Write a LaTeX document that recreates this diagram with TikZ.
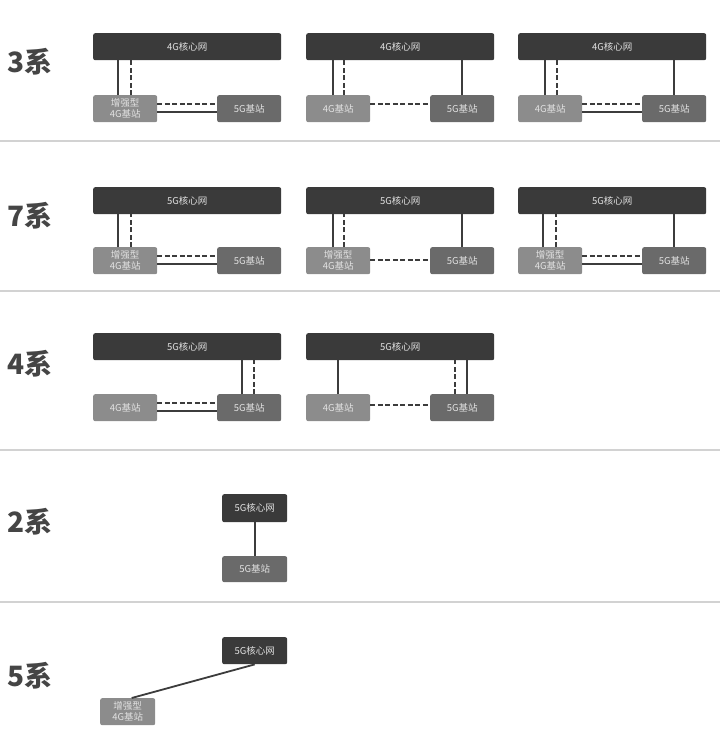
\documentclass[tikz,border=0pt]{standalone}
\usepackage{fontspec}
\setmainfont{Noto Sans CJK SC}
\usetikzlibrary{positioning}
\definecolor{corecol}{HTML}{3A3A3A}
\definecolor{fourcol}{HTML}{8C8C8C}
\definecolor{fivecol}{HTML}{6A6A6A}
\definecolor{linecol}{HTML}{3C3C3C}
\definecolor{boxtext}{HTML}{E2E2E2}
\definecolor{labelcol}{HTML}{454545}
\definecolor{sepcol}{HTML}{D2D2D2}
\tikzset{
  box/.style={rounded corners=2pt, inner sep=0pt, anchor=north west, text=boxtext,
    align=center, font=\fontsize{9.5}{11}\selectfont},
  core/.style={box, fill=corecol, minimum width=188pt, minimum height=27pt},
  smallcore/.style={box, fill=corecol, minimum width=65pt, minimum height=28pt},
  bsfour/.style={box, fill=fourcol, minimum width=64pt, minimum height=27pt},
  bsfive/.style={box, fill=fivecol, minimum width=64pt, minimum height=27pt},
  solidlink/.style={draw=linecol, line width=1.8pt},
  dashlink/.style={draw=linecol, line width=1.8pt, dash pattern=on 5pt off 2.5pt},
  rowlabel/.style={text=labelcol, font=\fontsize{28}{28}\bfseries\selectfont},
  sepline/.style={draw=sepcol, line width=1.3pt}
}
\begin{document}
\begin{tikzpicture}[x=1pt,y=-1pt]
    \useasboundingbox (0,0) rectangle (720,732);

    % separators between the rows
    \draw[sepline] (0,141) -- (720,141);
    \draw[sepline] (0,291) -- (720,291);
    \draw[sepline] (0,450) -- (720,450);
    \draw[sepline] (0,602) -- (720,602);

    % row labels
    \node[rowlabel] (r3) at (30,62) {3系};
    \node[rowlabel] (r7) at (30,216) {7系};
    \node[rowlabel] (r4) at (30,364) {4系};
    \node[rowlabel] (r2) at (30,522) {2系};
    \node[rowlabel] (r5) at (30,676) {5系};

    % Row 3: first panel
    \begin{scope}[shift={(93,33)}]
        \node[core] (c3a) at (0,0) {4G核心网};
        \node[bsfour] (f3a) at (0,62) {增强型\\4G基站};
        \node[bsfive] (g3a) at (124,62) {5G基站};
        % control and user plane to the core
        \draw[solidlink] ([xshift=-7pt]f3a.north) -- ([xshift=-7pt]f3a.north |- c3a.south);
        \draw[dashlink] ([xshift=6pt]f3a.north) -- ([xshift=6pt]f3a.north |- c3a.south);
        % link between the stations
        \draw[dashlink] ([yshift=5pt]f3a.east) -- ([yshift=5pt]f3a.east -| g3a.west);
        \draw[solidlink] ([yshift=-3pt]f3a.east) -- ([yshift=-3pt]f3a.east -| g3a.west);
    \end{scope}

    % Row 3: second panel
    \begin{scope}[shift={(306,33)}]
        \node[core] (c3b) at (0,0) {4G核心网};
        \node[bsfour] (f3b) at (0,62) {4G基站};
        \node[bsfive] (g3b) at (124,62) {5G基站};
        \draw[solidlink] ([xshift=-5pt]f3b.north) -- ([xshift=-5pt]f3b.north |- c3b.south);
        \draw[dashlink] ([xshift=6pt]f3b.north) -- ([xshift=6pt]f3b.north |- c3b.south);
        \draw[solidlink] (g3b.north) -- (g3b.north |- c3b.south);
        \draw[dashlink] ([yshift=5pt]f3b.east) -- ([yshift=5pt]f3b.east -| g3b.west);
    \end{scope}

    % Row 3: third panel
    \begin{scope}[shift={(518,33)}]
        \node[core] (c3c) at (0,0) {4G核心网};
        \node[bsfour] (f3c) at (0,62) {4G基站};
        \node[bsfive] (g3c) at (124,62) {5G基站};
        \draw[solidlink] ([xshift=-5pt]f3c.north) -- ([xshift=-5pt]f3c.north |- c3c.south);
        \draw[dashlink] ([xshift=7pt]f3c.north) -- ([xshift=7pt]f3c.north |- c3c.south);
        \draw[solidlink] (g3c.north) -- (g3c.north |- c3c.south);
        \draw[dashlink] ([yshift=5pt]f3c.east) -- ([yshift=5pt]f3c.east -| g3c.west);
        \draw[solidlink] ([yshift=-3pt]f3c.east) -- ([yshift=-3pt]f3c.east -| g3c.west);
    \end{scope}

    % Row 7: first panel
    \begin{scope}[shift={(93,187)}]
        \node[core] (c7a) at (0,0) {5G核心网};
        \node[bsfour] (f7a) at (0,60) {增强型\\4G基站};
        \node[bsfive] (g7a) at (124,60) {5G基站};
        \draw[solidlink] ([xshift=-7pt]f7a.north) -- ([xshift=-7pt]f7a.north |- c7a.south);
        \draw[dashlink] ([xshift=6pt]f7a.north) -- ([xshift=6pt]f7a.north |- c7a.south);
        \draw[dashlink] ([yshift=5pt]f7a.east) -- ([yshift=5pt]f7a.east -| g7a.west);
        \draw[solidlink] ([yshift=-3pt]f7a.east) -- ([yshift=-3pt]f7a.east -| g7a.west);
    \end{scope}

    % Row 7: second panel
    \begin{scope}[shift={(306,187)}]
        \node[core] (c7b) at (0,0) {5G核心网};
        \node[bsfour] (f7b) at (0,60) {增强型\\4G基站};
        \node[bsfive] (g7b) at (124,60) {5G基站};
        \draw[solidlink] ([xshift=-5pt]f7b.north) -- ([xshift=-5pt]f7b.north |- c7b.south);
        \draw[dashlink] ([xshift=6pt]f7b.north) -- ([xshift=6pt]f7b.north |- c7b.south);
        \draw[solidlink] (g7b.north) -- (g7b.north |- c7b.south);
        \draw[dashlink] ([yshift=1pt]f7b.east) -- ([yshift=1pt]f7b.east -| g7b.west);
    \end{scope}

    % Row 7: third panel
    \begin{scope}[shift={(518,187)}]
        \node[core] (c7c) at (0,0) {5G核心网};
        \node[bsfour] (f7c) at (0,60) {增强型\\4G基站};
        \node[bsfive] (g7c) at (124,60) {5G基站};
        \draw[solidlink] ([xshift=-7pt]f7c.north) -- ([xshift=-7pt]f7c.north |- c7c.south);
        \draw[dashlink] ([xshift=6pt]f7c.north) -- ([xshift=6pt]f7c.north |- c7c.south);
        \draw[solidlink] (g7c.north) -- (g7c.north |- c7c.south);
        \draw[dashlink] ([yshift=5pt]f7c.east) -- ([yshift=5pt]f7c.east -| g7c.west);
        \draw[solidlink] ([yshift=-3pt]f7c.east) -- ([yshift=-3pt]f7c.east -| g7c.west);
    \end{scope}

    % Row 4: first panel
    \begin{scope}[shift={(93,333)}]
        \node[core] (c4a) at (0,0) {5G核心网};
        \node[bsfour] (f4a) at (0,61) {4G基站};
        \node[bsfive] (g4a) at (124,61) {5G基站};
        \draw[solidlink] ([xshift=-7pt]g4a.north) -- ([xshift=-7pt]g4a.north |- c4a.south);
        \draw[dashlink] ([xshift=5pt]g4a.north) -- ([xshift=5pt]g4a.north |- c4a.south);
        \draw[dashlink] ([yshift=5pt]f4a.east) -- ([yshift=5pt]f4a.east -| g4a.west);
        \draw[solidlink] ([yshift=-3pt]f4a.east) -- ([yshift=-3pt]f4a.east -| g4a.west);
    \end{scope}

    % Row 4: second panel
    \begin{scope}[shift={(306,333)}]
        \node[core] (c4b) at (0,0) {5G核心网};
        \node[bsfour] (f4b) at (0,61) {4G基站};
        \node[bsfive] (g4b) at (124,61) {5G基站};
        \draw[solidlink] (f4b.north) -- (f4b.north |- c4b.south);
        \draw[dashlink] ([xshift=-7pt]g4b.north) -- ([xshift=-7pt]g4b.north |- c4b.south);
        \draw[solidlink] ([xshift=5pt]g4b.north) -- ([xshift=5pt]g4b.north |- c4b.south);
        \draw[dashlink] ([yshift=3pt]f4b.east) -- ([yshift=3pt]f4b.east -| g4b.west);
    \end{scope}

    % Row 2
    \node[smallcore] (c2) at (222,494) {5G核心网};
    \node[bsfive, minimum width=65pt, minimum height=26pt] (g2) at (222,556) {5G基站};
    \draw[solidlink] (c2.south) -- (g2.north);

    % Row 5
    \node[smallcore, minimum height=27pt] (c5) at (222,637) {5G核心网};
    \node[bsfour, minimum width=55pt] (f5) at (100,698) {增强型\\4G基站};
    \draw[solidlink] (c5.south) -- ([xshift=4pt]f5.north);

\end{tikzpicture}
\end{document}
